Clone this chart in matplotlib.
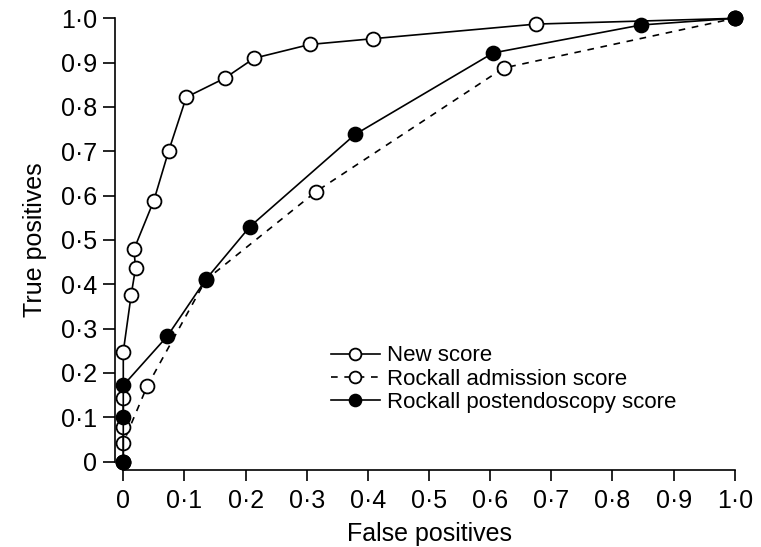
import matplotlib
matplotlib.use("Agg")
import matplotlib.pyplot as plt

plt.rcParams['font.family'] = ['Liberation Sans', 'DejaVu Sans']

# ROC points
new_fp = [0, 0, 0, 0, 0.013, 0.020, 0.0175, 0.050, 0.074, 0.103, 0.166, 0.214, 0.305, 0.408, 0.675, 1.0]
new_tp = [0, 0.078, 0.144, 0.248, 0.377, 0.436, 0.479, 0.589, 0.700, 0.822, 0.865, 0.910, 0.941, 0.954, 0.987, 1.0]

adm_fp = [0, 0, 0.039, 0.135, 0.315, 0.622, 1.0]
adm_tp = [0, 0.043, 0.170, 0.410, 0.609, 0.888, 1.0]

post_fp = [0, 0, 0, 0.072, 0.135, 0.207, 0.379, 0.605, 0.847, 1.0]
post_tp = [0, 0.100, 0.172, 0.283, 0.411, 0.530, 0.738, 0.922, 0.985, 1.0]

ticks = [0, 0.1, 0.2, 0.3, 0.4, 0.5, 0.6, 0.7, 0.8, 0.9, 1.0]
tick_labels = ["0", "0\u00b71", "0\u00b72", "0\u00b73", "0\u00b74", "0\u00b75",
               "0\u00b76", "0\u00b77", "0\u00b78", "0\u00b79", "1\u00b70"]

fig = plt.figure(figsize=(7.61, 5.47), dpi=100)
ax = fig.add_axes([0.162, 0.156, 0.8035, 0.8105])

lw = 1.2
ax.plot(adm_fp, adm_tp, color='black', lw=lw, ls=(0, (4, 4)), marker='o', ms=10,
        mfc='white', mec='black', mew=1.3, clip_on=False, zorder=3,
        label='Rockall admission score')
ax.plot(new_fp, new_tp, color='black', lw=lw, marker='o', ms=10,
        mfc='white', mec='black', mew=1.3, clip_on=False, zorder=4,
        label='New score')
ax.plot(post_fp, post_tp, color='black', lw=lw, marker='o', ms=10,
        mfc='black', mec='black', mew=1.3, clip_on=False, zorder=5,
        label='Rockall postendoscopy score')

ax.set_xlim(0, 1)
ax.set_ylim(0, 1)
ax.set_xticks(ticks)
ax.set_xticklabels(tick_labels)
ax.set_yticks(ticks)
ax.set_yticklabels(tick_labels)

for s in ['top', 'right']:
    ax.spines[s].set_visible(False)
ax.spines['left'].set_position(('outward', 6))
ax.spines['bottom'].set_position(('outward', 6))
ax.spines['left'].set_linewidth(1.2)
ax.spines['bottom'].set_linewidth(1.2)
ax.tick_params(axis='x', length=8, width=1.2, labelsize=18, pad=6)
ax.tick_params(axis='y', length=9, width=1.2, labelsize=18, pad=4)

ax.set_xlabel("False positives", fontsize=18, labelpad=6)
ax.set_ylabel("True positives", fontsize=18, labelpad=10)

handles, labels = ax.get_legend_handles_labels()
order = [1, 0, 2]
ax.legend([handles[i] for i in order], [labels[i] for i in order],
          loc='upper left', bbox_to_anchor=(0.42, 0.389), bbox_transform=fig.transFigure,
          frameon=False, fontsize=16, handlelength=2.2, handletextpad=0.35,
          labelspacing=0.1, borderpad=0, markerscale=0.85)

fig.savefig("out.png", dpi=100)
